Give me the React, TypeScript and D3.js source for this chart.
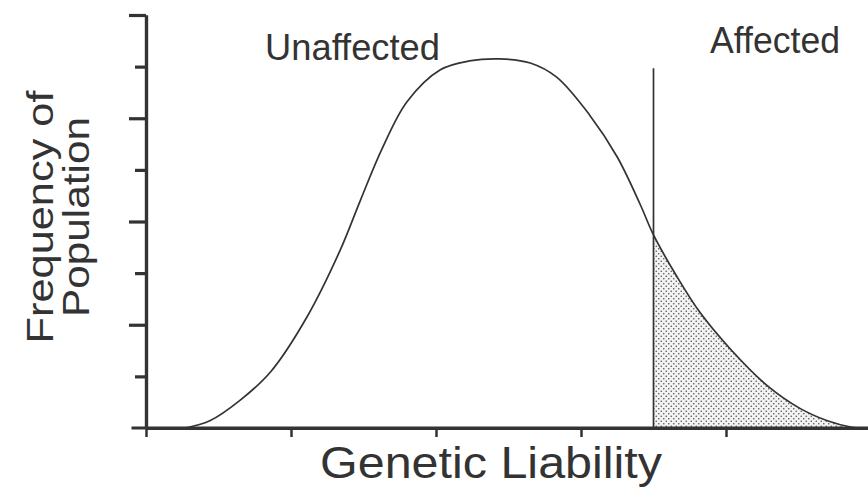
import React, { useEffect, useRef } from 'react'
import { select, scaleLinear, axisLeft, axisBottom, line, area, curveCatmullRom } from 'd3'

// liability (x) and population frequency (y)
const liability = [0.27, 0.44, 0.65, 0.86, 1.11, 1.34, 1.48, 1.63, 1.8, 2.03, 2.23, 2.44, 2.65, 2.83, 3.06, 3.25, 3.41, 3.5, 3.66, 3.82, 4.03, 4.28, 4.51, 4.7, 4.86, 4.96]
const frequency = [0, 0.14, 0.54, 1.09, 2.15, 3.45, 4.42, 5.42, 6.32, 6.94, 7.11, 7.15, 7.07, 6.8, 6.06, 5.25, 4.32, 3.74, 2.94, 2.24, 1.53, 0.83, 0.38, 0.14, 0.02, 0]

const xTicks = [0, 1, 2, 3, 4, 5]
const yMajor = [2, 4, 6, 8]
const yMinor = [1, 3, 5, 7]
const threshold = 3.5
const thresholdTop = 6.97

const ink = '#333333'
const font = '"Liberation Sans", Arial, Helvetica, sans-serif'

export default function App() {
  const svgRef = useRef<SVGSVGElement | null>(null)

  useEffect(() => {
    if (!svgRef.current) return
    const svg = select(svgRef.current)
    svg.selectAll('*').remove()

    const x = scaleLinear().domain([0, 5]).range([146, 871])
    const y = scaleLinear().domain([0, 8]).range([428, 15])
    const pts = liability.map((l, i) => ({ l, f: frequency[i] }))
    const curve = curveCatmullRom.alpha(0.5)

    const defs = svg.append('defs')
    const pat = defs.append('pattern')
      .attr('id', 'stipple')
      .attr('patternUnits', 'userSpaceOnUse')
      .attr('width', 5).attr('height', 5)
    pat.append('rect').attr('width', 5).attr('height', 5).attr('fill', '#f3f3f3')
    pat.append('circle').attr('cx', 1.25).attr('cy', 1.25).attr('r', 0.8).attr('fill', '#555')
    pat.append('circle').attr('cx', 3.75).attr('cy', 3.75).attr('r', 0.8).attr('fill', '#555')
    defs.append('clipPath').attr('id', 'affected')
      .append('rect')
      .attr('x', x(threshold)).attr('y', 0)
      .attr('width', 868 - x(threshold)).attr('height', y(0))

    // shaded tail past the threshold
    svg.append('path')
      .datum(pts)
      .attr('clip-path', 'url(#affected)')
      .attr('fill', 'url(#stipple)')
      .attr('d', area<{ l: number, f: number }>()
        .x(d => x(d.l)).y0(y(0)).y1(d => y(d.f))
        .curve(curve))

    svg.append('path')
      .datum(pts)
      .attr('fill', 'none')
      .attr('stroke', ink)
      .attr('stroke-width', 1.7)
      .attr('d', line<{ l: number, f: number }>()
        .x(d => x(d.l)).y(d => y(d.f))
        .curve(curve))

    svg.append('line')
      .attr('x1', x(threshold)).attr('x2', x(threshold))
      .attr('y1', y(thresholdTop)).attr('y2', y(0))
      .attr('stroke', ink).attr('stroke-width', 1.7)

    // axes
    const yMaj = svg.append('g').attr('transform', `translate(${x(0)},0)`)
      .call(axisLeft(y).tickValues(yMajor).tickSize(17).tickSizeOuter(0).tickFormat(() => ''))
    const yMin = svg.append('g').attr('transform', `translate(${x(0)},0)`)
      .call(axisLeft(y).tickValues(yMinor).tickSize(11).tickSizeOuter(0).tickFormat(() => ''))
    const xAx = svg.append('g').attr('transform', `translate(0,${y(0)})`)
      .call(axisBottom(x).tickValues(xTicks).tickSize(9).tickSizeOuter(0).tickFormat(() => ''))
    svg.append('line')
      .attr('x1', x(-0.1)).attr('x2', 868)
      .attr('y1', y(0)).attr('y2', y(0))
      .attr('stroke', ink).attr('stroke-width', 3.2)
    for (const g of [yMaj, yMin, xAx]) {
      g.selectAll('path, line').attr('stroke', ink).attr('stroke-width', 3.2)
    }
    xAx.selectAll('line').attr('stroke-width', 2.5)
  }, [])

  return (
    <div style={{ position: 'absolute', left: 0, top: 0, background: '#fff' }}>
      <svg ref={svgRef} width={868} height={491} style={{ display: 'block' }} />
      <svg width={868} height={491} style={{ position: 'absolute', left: 0, top: 0, fontFamily: font }}>
        <text x={265} y={60} fontSize={37} fill={ink} textLength={175} lengthAdjust='spacingAndGlyphs'>Unaffected</text>
        <text x={710} y={53} fontSize={37} fill={ink} textLength={130} lengthAdjust='spacingAndGlyphs'>Affected</text>
        <text x={320} y={478} fontSize={44} fill={ink} textLength={342} lengthAdjust='spacingAndGlyphs'>Genetic Liability</text>
        <text transform='translate(53,217) rotate(-90)' textAnchor='middle' fontSize={37} fill={ink} textLength={253} lengthAdjust='spacingAndGlyphs'>Frequency of</text>
        <text transform='translate(89,217) rotate(-90)' textAnchor='middle' fontSize={37} fill={ink} textLength={200} lengthAdjust='spacingAndGlyphs'>Population</text>
      </svg>
    </div>
  )
}
